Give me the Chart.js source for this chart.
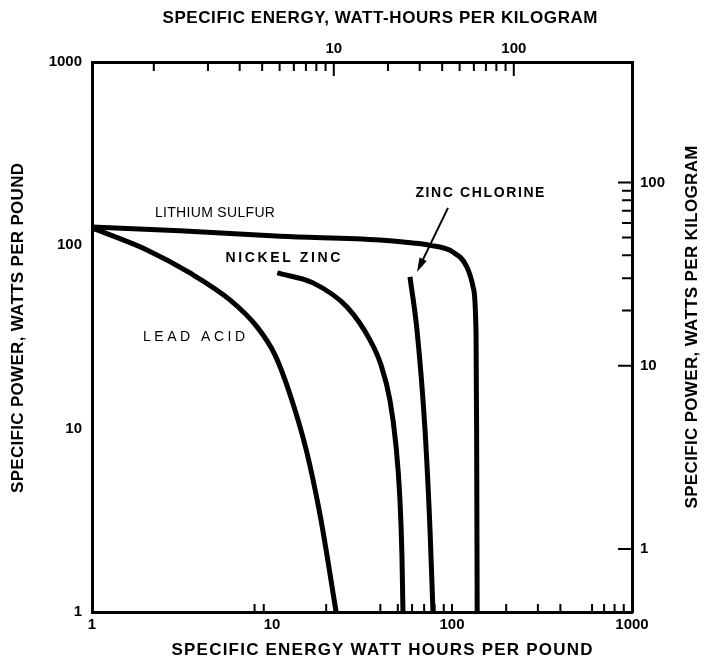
<!DOCTYPE html>
<html><head><meta charset="utf-8">
<script src="https://cdn.jsdelivr.net/npm/chart.js@4"></script>
<style>html,body{margin:0;padding:0;background:#fff}#wrap{width:714px;height:662px;position:relative}</style>
</head><body><div id="wrap"><canvas id="c" width="714" height="662"></canvas></div>
<script>
// ---- Data (x: specific energy Wh/lb, y: specific power W/lb) ----
const lithiumSulfurX = [1, 3.08, 11.1, 39.8, 60.7, 75.5, 101, 121, 131, 136, 137, 138];
const lithiumSulfurY = [126, 120, 112, 107, 103, 100, 92, 76.2, 59.3, 33.3, 10, 1];
const leadAcidX = [1, 1.15, 2.02, 3.5, 5.84, 8.26, 10.4, 12.9, 15.6, 18.5, 20.5, 22.7];
const leadAcidY = [124, 118, 94.4, 70.7, 50.4, 35.9, 25.2, 14.3, 7.46, 3.38, 1.87, 1];
const nickelZincX = [10.7, 16.9, 26.1, 35.0, 40.3, 45.2, 48.8, 51.4, 52.7, 53.4];
const nickelZincY = [70.7, 62.4, 46.1, 30.5, 22.3, 14.3, 8.15, 4.08, 2.05, 1];
const zincChlorineX = [58.4, 63.9, 70.8, 75.5, 78.4];
const zincChlorineY = [67.3, 34.5, 9.84, 2.8, 1];

// ---- Axis tick labels ----
const bottomLabels = [1, 10, 100, 1000];
const leftLabels = [1, 10, 100, 1000];
const topLabels = [10, 100];
const rightLabels = [1, 10, 100];
const topMinorTicks = [1, 2, 3, 4, 5, 6, 7, 8, 9, 20, 30, 40, 50, 60, 70, 80, 90];
const rightMinorTicks = [20, 30, 40, 50, 60, 70, 80, 90];
const bottomMinorTicks = [8, 9, 20, 40, 50, 60, 70, 80, 90, 100, 200, 300, 400, 600, 700, 800, 900];
const KG_PER_LB = 2.2046;

// ---- Annotations (data coordinates) ----
const curveLabels = [
  {text: 'LITHIUM SULFUR', x: 4.82, y: 150, font: '14px "Liberation Sans"', w: 120},
  {text: 'NICKEL ZINC', x: 11.5, y: 85.3, font: 'bold 14px "Liberation Sans"', w: 115},
  {text: 'LEAD ACID', x: 3.69, y: 31.7, font: '14px "Liberation Sans"', w: 102},
  {text: 'ZINC CHLORINE', x: 143, y: 193, font: 'bold 14px "Liberation Sans"', w: 129}
];
const arrowTail = [95, 160];
const arrowHead = [63.9, 71.6];

const mk = (xs, ys) => xs.map((x, i) => ({x, y: ys[i]}));
const lineDs = (label, xs, ys) => ({
  label, data: mk(xs, ys), borderColor: '#000', borderWidth: 5, pointRadius: 0,
  fill: false, cubicInterpolationMode: 'monotone', borderCapStyle: 'butt', xAxisID: 'x', yAxisID: 'y'
});

function spacedText(ctx, text, cx, cy, width) {
  ctx.letterSpacing = '0px';
  const w0 = ctx.measureText(text).width;
  const ls = Math.max(0, (width - w0) / (text.length - 1));
  ctx.letterSpacing = ls + 'px';
  const w = ctx.measureText(text).width;
  ctx.textAlign = 'left';
  ctx.textBaseline = 'middle';
  ctx.fillText(text, cx - (w - ls) / 2, cy);
  ctx.letterSpacing = '0px';
}

const decor = {
  id: 'decor',
  afterDatasetsDraw(chart) {
    const {ctx, chartArea: ca, scales} = chart;
    const {x, y, x2, y2} = scales;
    ctx.save();
    ctx.strokeStyle = '#000';
    ctx.fillStyle = '#000';
    // inward ticks
    ctx.lineWidth = 2;
    ctx.beginPath();
    topLabels.forEach(v => { const p = x2.getPixelForValue(v); ctx.moveTo(p, ca.top); ctx.lineTo(p, ca.top + 14); });
    topMinorTicks.forEach(v => { const p = x2.getPixelForValue(v); ctx.moveTo(p, ca.top); ctx.lineTo(p, ca.top + 9); });
    rightLabels.forEach(v => { const p = y2.getPixelForValue(v); ctx.moveTo(ca.right, p); ctx.lineTo(ca.right - 14, p); });
    rightMinorTicks.forEach(v => { const p = y2.getPixelForValue(v); ctx.moveTo(ca.right, p); ctx.lineTo(ca.right - 10, p); });
    bottomMinorTicks.forEach(v => { const p = x.getPixelForValue(v); ctx.moveTo(p, ca.bottom); ctx.lineTo(p, ca.bottom - 8); });
    ctx.stroke();
    // arrow
    const tx = x.getPixelForValue(arrowTail[0]), ty = y.getPixelForValue(arrowTail[1]);
    const hx = x.getPixelForValue(arrowHead[0]), hy = y.getPixelForValue(arrowHead[1]);
    const ang = Math.atan2(hy - ty, hx - tx);
    ctx.lineWidth = 2;
    ctx.beginPath(); ctx.moveTo(tx, ty); ctx.lineTo(hx - 10 * Math.cos(ang), hy - 10 * Math.sin(ang)); ctx.stroke();
    ctx.beginPath();
    ctx.moveTo(hx, hy);
    ctx.lineTo(hx - 14 * Math.cos(ang) + 4 * Math.sin(ang), hy - 14 * Math.sin(ang) - 4 * Math.cos(ang));
    ctx.lineTo(hx - 14 * Math.cos(ang) - 4 * Math.sin(ang), hy - 14 * Math.sin(ang) + 4 * Math.cos(ang));
    ctx.closePath(); ctx.fill();
    // curve labels
    curveLabels.forEach(l => {
      ctx.font = l.font;
      spacedText(ctx, l.text, x.getPixelForValue(l.x), y.getPixelForValue(l.y), l.w);
    });
    // axis titles
    ctx.font = 'bold 17px "Liberation Sans"';
    spacedText(ctx, 'SPECIFIC ENERGY, WATT-HOURS PER KILOGRAM', 380, ca.top - 44, 435);
    spacedText(ctx, 'SPECIFIC ENERGY WATT HOURS PER POUND', 382, ca.bottom + 38, 421);
    ctx.save(); ctx.translate(ca.left - 74, 328); ctx.rotate(-Math.PI / 2);
    spacedText(ctx, 'SPECIFIC POWER, WATTS PER POUND', 0, 0, 330); ctx.restore();
    ctx.save(); ctx.translate(ca.right + 60, 327); ctx.rotate(-Math.PI / 2);
    spacedText(ctx, 'SPECIFIC POWER, WATTS PER KILOGRAM', 0, 0, 363); ctx.restore();
    ctx.restore();
  }
};

const tickFont = {family: '"Liberation Sans"', size: 15, weight: 'bold'};
const logAxis = (pos, min, max, labels, size, pad) => ({
  type: 'logarithmic', position: pos, min, max,
  afterBuildTicks: s => { s.ticks = labels.map(v => ({value: v})); },
  afterFit: s => { if (pos === 'left' || pos === 'right') s.width = size; else s.height = size; },
  ticks: {callback: v => String(v), font: tickFont, color: '#000', padding: pad, autoSkip: false, maxRotation: 0},
  grid: {display: false, drawTicks: false},
  border: {display: true, color: '#000', width: 3}
});

new Chart(document.getElementById('c'), {
  type: 'line',
  data: {datasets: [
    lineDs('Lithium sulfur', lithiumSulfurX, lithiumSulfurY),
    lineDs('Lead acid', leadAcidX, leadAcidY),
    lineDs('Nickel zinc', nickelZincX, nickelZincY),
    lineDs('Zinc chlorine', zincChlorineX, zincChlorineY)
  ]},
  options: {
    responsive: false, devicePixelRatio: 1, animation: false,
    layout: {padding: 0},
    plugins: {legend: {display: false}, tooltip: {enabled: false}},
    scales: {
      x: logAxis('bottom', 1, 1000, bottomLabels, 50, 4),
      y: logAxis('left', 1, 1000, leftLabels, 92, 10),
      x2: logAxis('top', 1 / KG_PER_LB, 1000 / KG_PER_LB, topLabels, 62, 4),
      y2: logAxis('right', 1 / KG_PER_LB, 1000 / KG_PER_LB, rightLabels, 82, 8)
    }
  },
  plugins: [decor]
});
</script></body></html>
